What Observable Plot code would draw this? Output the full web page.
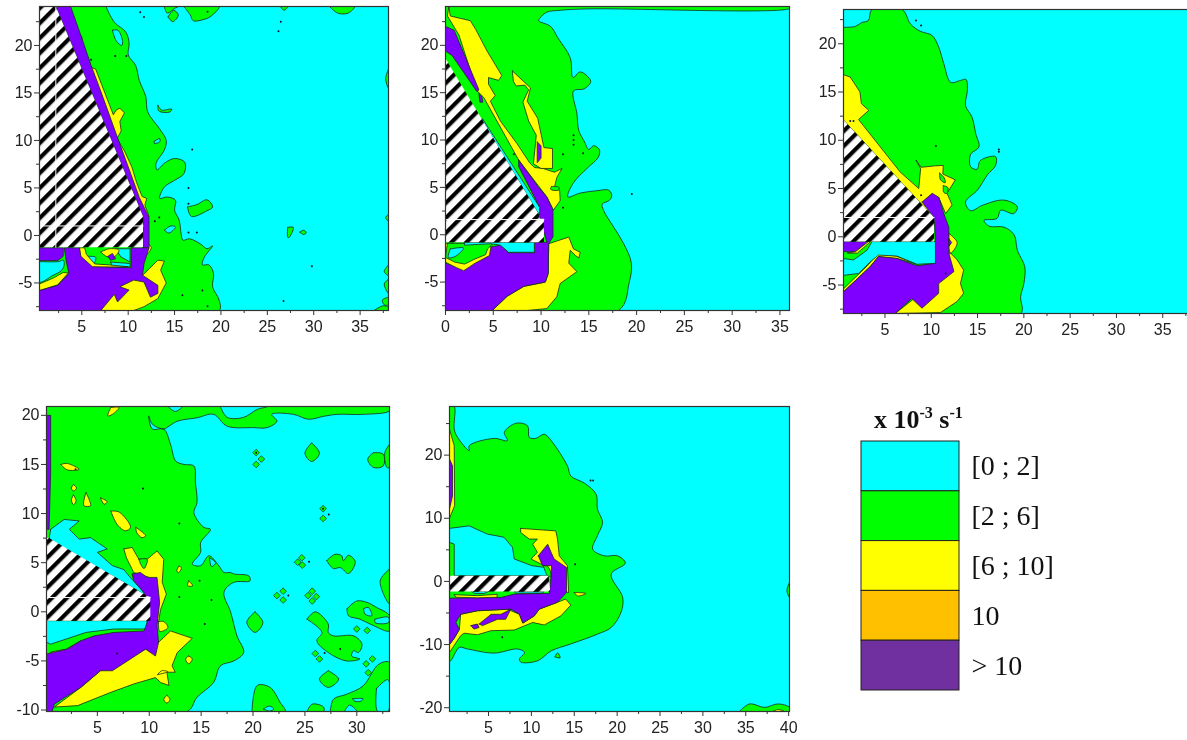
<!DOCTYPE html>
<html><head><meta charset="utf-8">
<script src="https://cdn.jsdelivr.net/npm/d3@7"></script>
<script src="https://cdn.jsdelivr.net/npm/@observablehq/plot@0.6"></script>
<style>
html,body{margin:0;padding:0;background:#fff}
#page{position:relative;width:1187px;height:740px;overflow:hidden;background:#fff}
#page svg{position:absolute;overflow:hidden;background:transparent;filter:blur(.35px)}
#unit{position:absolute;left:874px;top:405px;font:bold 26px "Liberation Serif";color:#111;white-space:nowrap;filter:blur(.3px)}
#unit sup{font-size:16px;line-height:0}
</style></head><body><div id="page"><div id="unit">x 10<sup>-3</sup> s<sup>-1</sup></div></div>
<script>
// ---------- legend ----------
const legendLabels=["[0 ; 2]","[2 ; 6]","[6 ; 10]","10","> 10"];
const legendColors=["#00ffff","#00ff00","#ffff00","#ffc000","#7030a0"];
const C="#00ffff",G="#00ff00",Y="#ffff00",P="#8000ff",B="hatch";

// ---------- panel 1 (x 0.44..38.06, y -7.9..24.1) ----------
const p1Green=[[7.6,24.1],[8.5,22.45],[9.75,21.4],[10.1,20.2],[10,19],[10.8,17.9],[11.2,16.3],[11.9,14.6],[12.1,13],[13.4,11.2],[14.1,10],[13.9,9],[13,7.6],[13.1,6.9],[13.9,7.6],[15,8.1],[16.1,7.7],[16,6.5],[15,5.8],[13.9,5.1],[13.4,3.9],[14.2,4.05],[15.1,3.7],[15,2.65],[15.5,1.6],[15.7,.2],[15.9,-.5],[16.6,-.35],[17.8,-.9],[18.5,-1.4],[19.1,-1.1],[18.2,-2.3],[18,-3.1],[18.7,-3.1],[19.2,-4],[19.1,-5.4],[19.8,-6.8],[19.8,-7.9],[.44,-7.9],[.44,24.1]];
const p1IslandA=[[16.4,3],[16.8,2],[18.5,2.6],[19.1,3],[18.5,3.75],[17.4,3.25]];
const p1IslandB=[[13.2,13.7],[13.6,13.2],[14.7,13.3],[14.5,13],[13.3,13.1]];
const p1IslandC=[[13.9,24.1],[14.2,23.4],[15,23.9],[15.4,24.1]];
const p1IslandD=[[14.3,23],[14.9,23.7],[15.4,23.2],[14.8,22.5]];
const p1IslandE=[[16,24.1],[16.7,23.2],[17,22.6],[18,22.7],[18.8,23],[19.8,24.1]];
const p1IslandF=[[31.7,24.1],[32.6,23.4],[33.7,23.4],[34.4,24.1]];
const p1IslandG=[[26.4,24.1],[26.8,23.7],[27.2,24.1]];
const p1IslandH=[[27.2,.85],[27.8,.85],[27.35,-.2],[27.2,-.2]];
const p1IslandI=[[28.5,.35],[28.9,.55],[29.2,.3],[28.9,.1]];
const p1IslandJ=[[38.06,17.5],[37.75,16.5],[38.06,15.5]];
const p1IslandK=[[36.5,-7.9],[37.5,-7.4],[38.06,-7.6],[38.06,-7.9]];
const p1IslandL=[[38.06,-3.1],[37.6,-3.8],[38.06,-4.2]];
const p1IslandM=[[38.06,-4.6],[37.6,-5.1],[38.06,-6.1]];
const p1IslandN=[[38.06,-6.5],[37.4,-6.8],[37.6,-7.3],[38.06,-7.3]];
const p1IslandO=[[38.06,2.2],[37.75,1.9],[38.06,1.5]];
const p1HoleA=[[8.3,21.6],[8.9,21.6],[9.4,20.4],[9.3,20],[8.7,20.5]];
const p1HoleB=[[12.8,9.9],[13.4,10.2],[13.4,9.85],[12.8,9.7]];
const p1HoleC=[[13.9,.55],[14.6,1],[15.1,.9],[14.4,.25]];
const p1HoleD=[[5.6,-2.2],[6.5,-2.3],[6.3,-2.95]];
const p1HoleE=[[8.65,-1.4],[10.2,-1.4],[10.2,-2.8],[9.2,-2.25]];
const p1HoleF=[[8.1,-2.8],[10.2,-2.95],[10.2,-3.3],[8.3,-3.25]];
const p1HoleG=[[.44,-2.75],[2.5,-2.75],[3,-2.6],[3.1,-3.1],[2.8,-3.7],[1.9,-4.2],[.44,-4.9]];
const p1YellowBand=[[4.35,21.6],[5,20.9],[4.9,20.2],[4.5,20.6]];
const p1YellowEdge=[[6,17.7],[6.5,17.5],[8.4,12.7],[8.7,13.2],[9.1,13.4],[9.6,12.9],[9.1,12],[9.25,11],[8.8,10.2],[9.6,8.9],[10.4,7.2],[10.9,5.6],[11.5,4.1],[12,3.9],[11.8,3.2],[12.25,2],[11,2],[5,19]];
const p1YellowLow=[[11.55,-4.2],[13.2,-2.6],[13.9,-2.7],[13.5,-3.65],[14.1,-5],[13.2,-6.65],[11.7,-7.5],[10.6,-7.9],[7,-7.9],[9,-5]];
const p1YellowStrip=[[.44,-5.1],[1.9,-4.5],[3,-3.9],[3.55,-3.95],[2.4,-5.2],[.44,-5.8]];
const p1YellowInner=[[7.05,-1.75],[7.95,-1.4],[9,-1.55],[8.5,-2.25],[7.75,-2.25]];
const p1YellowRim=[[4.75,-1.3],[5.3,-1.3],[5.5,-2],[6.4,-3],[8,-3.1],[10,-3.3],[6,-3.35],[4.8,-2.2]];
const p1YellowTip=[[12.25,-1],[12.5,-1.25],[12,-2],[11.8,-1.6]];
const p1PurpleBand=[[2.2,24.1],[3.8,24.1],[5.1,20.5],[6,17.9],[7,15.3],[8.7,10.7],[9.9,7.5],[11.2,4],[12.25,1.9],[12.25,-1.3],[11.6,-1.3],[11.6,2]];
const p1PurpleLow=[[.44,-5.8],[2.4,-5.25],[3.6,-4],[3.3,-2.6],[3.1,-1.3],[4.75,-1.3],[4.9,-2.2],[6.15,-3.3],[10.3,-3.4],[10.3,-1.3],[12.25,-1.3],[11.7,-3],[11.55,-4.2],[13.2,-5.25],[13.2,-6.1],[12.4,-6.5],[11.7,-4.9],[10.6,-4.7],[9.1,-5.4],[10.1,-5.75],[8.85,-7],[8.5,-6.2],[7.05,-7.9],[.44,-7.9]];
const p1PurpleBlock=[[.44,-1.3],[3,-1.3],[3,-2.2],[2.4,-2.65],[.44,-2.65]];
const p1PurpleInner=[[7.8,-2.2],[8.3,-1.9],[8.65,-2.45],[8.1,-2.6]];
const p1Hatch=[[.44,24.1],[2.2,24.1],[11.6,2],[11.6,-1.25],[.44,-1.25]];
const p1SeamA=[[.44,1],[11.6,1]];
const p1SeamB=[[2.2,-1.25],[2.2,24]];
const p1Specks=[[8.6,18.9],[9.8,18.9],[6,18.5],[12.87,1.5],[13.35,1.9],[26.45,22.5],[26.2,21.5],[16.9,9.05],[16.5,5],[16.5,3.35],[16.5,.3],[17.4,.3],[29.8,-3.25],[18,-5.8],[15.85,-6.3],[18.55,-7.45],[26.75,-6.9],[11.7,23],[11.3,23.5],[18.55,23.55]];

// ---------- panel 2 (x 0..36, y -8..24.1) ----------
const p2Green=[[36,24.1],[36,23.9],[15,23.85],[12,23.7],[10.6,23.5],[9.9,22.9],[9.75,22.6],[11,22],[11.75,20.8],[13.05,18.7],[13.35,16.6],[14.1,17.2],[15.2,16.2],[14.5,15.4],[13.4,15.2],[13.75,12.8],[13.95,11],[14.5,9.9],[15,9],[15.5,9.4],[16.1,9],[16,8.2],[14.8,7],[13.4,5.5],[12.8,4],[14.1,4.4],[15.85,4.65],[17.1,4.7],[17.4,4.1],[17.1,3.6],[16.4,3.25],[16.55,2.55],[17.6,.8],[18.65,-.95],[19.45,-3],[19.2,-5.15],[18.1,-8],[0,-8],[0,24.1]];
const p2YellowA=[[.35,24.1],[.5,23.1],[2.6,22.6],[3.15,21.7],[4.35,19.4],[5.9,16.8],[5.55,16.3],[4.5,16.6],[4.5,15.9],[5.2,14.7],[4.7,14.1],[5.75,12],[7.5,9.6],[8.8,7.6],[9.3,7.1],[10.2,7],[11.4,6.6],[12.2,7],[11.65,6.05],[11.4,5],[11.95,4.65],[12,3.6],[11.3,2.6],[10.6,4],[7.65,7.9],[4,14.5],[3.3,15.2],[1.4,21.1],[.2,23.1]];
const p2YellowB=[[7,17.3],[8.9,15.5],[8.55,14.1],[9.65,12.3],[10.3,9.2],[11.2,9.1],[11.2,7],[10,7],[9.2,7.5],[9.35,9],[9.5,10.5],[8.7,12],[8.1,14],[8.7,15.3],[8.3,15.8],[7.4,15.7],[7.1,16.2]];
const p2GreenFleck=[[11.1,5.1],[11.9,5],[11.8,4.7],[11,4.8]];
const p2PurpleTop=[[0,22],[.9,21.6],[3.5,15.3],[3.3,15.1],[.7,18.9],[0,19.4]];
const p2PurpleFleck=[[3.5,14.9],[3.8,14.6],[3.9,14],[3.6,14]];
const p2PurpleDots=[[9.6,9.8],[10,9.4],[10,8.1],[9.6,7.6],[9.6,8.2]];
const p2Purple=[[7.65,7.9],[9.75,5],[10.6,4],[11.25,2.6],[11.25,-.2],[10.8,-.95],[10.75,-4.1],[10.45,-5],[8.2,-5.45],[6.45,-6.5],[4.9,-8],[0,-8],[0,-3],[1.9,-3.7],[3.1,-2.9],[4.5,-2.2],[4.7,-1.3],[5.75,-1.1],[6.6,-1.9],[9.3,-1.9],[9.3,-.8],[10.6,-.8],[9.85,1.9],[9.85,2.9],[7.65,7.2]];
const p2YellowLow=[[10.8,-.95],[12.9,-.25],[13.4,-1.5],[14.1,-1.85],[13.95,-2.45],[13.6,-2.2],[13.05,-1.65],[12.9,-3],[13.75,-3.9],[12,-5.15],[11.65,-6.55],[10.6,-7.8],[8.5,-8],[4.9,-8],[6.45,-6.5],[8.2,-5.45],[10.45,-5],[10.75,-4.1]];
const p2YellowUnder=[[0,-2.9],[1.2,-3.5],[1.9,-3.8],[3.1,-3],[4.6,-2.2],[4.75,-1.3],[4.5,-.9],[0,-.9]];
const p2GreenUnder=[[.2,-.9],[5,-.9],[4.4,-1.5],[4.2,-2.1],[3,-2.6],[2,-3.1],[1,-2.9],[0,-2.4]];
const p2CyanTop=[[5.75,-.8],[9.3,-.8],[9.3,-1.85],[6.6,-1.85],[5.75,-1.1],[4.7,-.95],[2,-1.1],[2,-.8]];
const p2CyanPocket=[[.5,-1.5],[1.9,-1.4],[1,-2.3],[.3,-2.4]];
const p2CyanSliver=[[3.9,12.2],[9.85,2.9],[9.85,2.1],[9.5,2.6],[3.75,12.2]];
const p2Hatch=[[0,18.6],[9.75,2.2],[9.85,1.7],[10.3,1.7],[10.3,-.8],[0,-.8]];
const p2SeamA=[[0,1.6],[10.3,1.6]];
const p2Specks=[[13.4,10.5],[13.4,10],[13.4,9.5],[14.4,8.6],[12.3,8.5],[12.3,2.85],[19.5,4.3],[7.15,8.5]];

// ---------- panel 3 (x 0.52..38, y -7.95..23.55) ----------
const p3Green=[[.52,21.7],[1.8,21.8],[2.5,22.2],[3.2,22.4],[3.6,23.55],[6.85,23.55],[7.75,22.05],[8.8,21.3],[10.1,20.85],[10.8,19.65],[11.35,17.95],[12.1,16],[13.15,16.2],[13.75,16.3],[13.9,15.2],[13.7,13.6],[14.4,12.4],[14.8,10.7],[15.15,9.3],[14.25,8.55],[14.25,7.25],[14.95,7],[15.3,7.9],[16.95,8.3],[16.95,7.4],[16.05,6.4],[15,4.85],[13.7,3.6],[14.25,2.7],[15.5,3.25],[17.85,3.8],[19.3,3.1],[18.9,2.4],[17.5,2.75],[17.1,1.9],[15.7,1.7],[16.25,1.1],[17.85,1],[18.95,.2],[19.3,-1.4],[20.1,-3.1],[20,-4.85],[19.65,-6.2],[19.65,-7.95],[.52,-7.95]];
const p3YellowTop=[[.52,16.8],[1.25,16.55],[2.3,15],[2.45,13.8],[3.25,13.1],[2.15,12.15],[4.5,9.3],[6.65,6.7],[8.65,5],[8.85,7.05],[8.35,7.95],[8.9,7.2],[10.45,7.35],[11.3,7.4],[11.25,6.5],[12.6,5.9],[11.7,4.5],[12.25,3.3],[11.55,2.4],[10.8,4.1],[9.9,2.4],[.52,12.1]];
const p3HoleA=[[10.9,6.6],[11.4,6.1],[11.5,5.6],[11,5.9]];
const p3HoleB=[[11.3,5.3],[11.8,5.1],[11.7,4.5],[11.35,4.6]];
const p3Purple=[[9,3.6],[10.1,4.5],[10.8,4.1],[11.35,2.4],[11.9,1],[11.9,-1.7],[12.45,-3.6],[10.8,-4.85],[10.8,-5.85],[9,-7.4],[7.9,-6.4],[6.1,-7.95],[.52,-7.95],[.52,-5.7],[3.4,-3.1],[4.3,-2.05],[6.3,-2.25],[8.45,-3],[10.45,-2.75],[10.45,-.35],[10.3,2]];
const p3YellowLow=[[12.1,-1.7],[12.8,-2.4],[13.5,-3.45],[13.15,-4.85],[13.5,-5.85],[12.8,-6.7],[11,-7.85],[6.1,-7.95],[10,-5],[11.9,-1.7]];
const p3YellowRim=[[.52,-5.4],[3.2,-2.9],[4.2,-1.75],[6.2,-2],[8.5,-2.85],[6.3,-2.25],[4.3,-2.05],[3.4,-3.1],[.52,-5.7]];
const p3Diamond=[[11.9,.35],[12.8,-.6],[12.1,-1.7],[11.9,-1.2]];
const p3DiamondIn=[[11.9,-.2],[12.2,-.6],[11.9,-1]];
const p3CyanLow=[[3.6,-.5],[10.45,-.5],[10.45,-2.75],[8.45,-2.85],[6.3,-2],[4.3,-1.9],[3.4,-2.6],[2.15,-3.8],[.52,-4],[.52,-2.25],[1.6,-2.4],[3.05,-1.4]];
const p3PurpleCap=[[.52,-.5],[3.2,-.5],[1.8,-1.55],[.52,-1.55]];
const p3YellowCap=[[3.2,-.5],[3.45,-.5],[2,-1.7],[.9,-1.7],[1.8,-1.55]];
const p3Hatch=[[.52,12.1],[10.3,2],[10.3,-.5],[.52,-.5]];
const p3SeamA=[[.52,2],[10.3,2]];
const p3Specks=[[8.35,22.4],[8.9,21.9],[10.5,9.4],[17.3,9.05],[17.3,8.8],[8.9,4.3],[11.55,-3.8],[1.25,12],[1.6,12]];

// ---------- panel 4 (x 0.1..33.15, y -10.15..20.9) ----------
const p4Green=[[33.15,20.9],[33.15,20.45],[30.65,20.1],[28.1,20.1],[26.8,19.9],[25.35,19.6],[23.9,20.1],[21.8,20.1],[22.3,19.4],[21.35,18.75],[20.05,18.75],[17.5,18.9],[16.2,20.1],[14.6,19.75],[12.7,19.4],[11.7,18.75],[11.4,18.6],[10.3,19.1],[9.95,19.95],[10.3,18.6],[11.4,18.6],[12.05,17.05],[12.55,15.35],[13.35,15],[14.3,14.85],[14.45,13.15],[14.6,11.1],[14.3,10.1],[15.25,8.6],[15.9,8.4],[14.95,7.05],[14.95,6.05],[14.15,4.85],[14.95,4.7],[15.75,5.7],[16.7,4.7],[17.2,4],[17.8,4],[18.15,3.85],[19.6,3.65],[19.7,3.15],[18.15,3],[17.2,2],[17.85,-.05],[18.45,-2.45],[19.1,-4.15],[18.15,-5],[16.85,-5.5],[16.2,-7.2],[14.6,-8.7],[13.65,-10.15],[.1,-10.15],[.1,20.9]];
const p4CyanNotch=[[16.85,20.9],[17.5,19.8],[19.1,19.8],[20.4,20.6],[21.4,20.9]];
const p4CyanNotchB=[[11.8,20.9],[12.5,20.4],[13.2,20.9]];
const p4CyanPocket=[[.5,8.4],[1.8,9.4],[3.25,9.25],[2.3,8.4],[3.25,7.4],[4.35,7.55],[5.95,6.4],[5,6.05],[6.45,4.7],[7.55,4.3],[8.05,3.65],[9.8,1.6],[.35,7.4]];
const p4CyanLow=[[.1,-1.75],[.1,-3.1],[.5,-3.3],[3.9,-2.1],[6.6,-1.75],[9.8,-1.75],[9.8,-.9],[.1,-.9]];
const p4IslandA=[[25.65,17.2],[26.4,16.15],[25.65,15.3],[25,16.15]];
const p4IslandB=[[31.6,16.2],[32.55,16.05],[32.55,14.85],[31.6,14.7],[31.05,15.55]];
const p4IslandC=[[33.15,17.05],[32.7,16.2],[32.9,14.7],[33.15,14.7]];
const p4IslandD=[[27.1,5.2],[27.9,5.85],[28.55,5.7],[28.7,5.2],[29.2,5.75],[29.85,5.1],[29.2,3.9],[28.4,4.5],[27.75,4.4]];
const p4IslandE=[[29.05,.3],[30,1.1],[31,.95],[31.9,.45],[33.15,-.4],[33.15,-1.95],[31.6,-1.4],[30.3,-.75],[29.2,-.4]];
const p4HoleE1=[[30.65,.3],[31.1,.45],[31.45,-.4],[30.8,-.25]];
const p4HoleE2=[[31.75,-.75],[33.05,-.55],[33.05,-1.1],[31.75,-1.1]];
const p4IslandF=[[33.15,4.35],[32.25,3.15],[33.15,.8]];
const p4IslandG=[[20.2,0],[20.95,-1.1],[20.2,-2.1],[19.4,-1.05]];
const p4IslandH=[[25.2,-.75],[26,0],[27.25,-1.25],[27.25,-2.1],[27.75,-2.45],[29.7,-2.45],[30.5,-3.3],[30.15,-4.15],[29.7,-3.95],[29.5,-4.5],[30.3,-4.8],[29,-5],[27.25,-4.15],[26.15,-2.95],[26.65,-2.1]];
const p4IslandI=[[27.25,-6],[28.25,-6.85],[27.25,-7.7],[26.4,-6.85]];
const p4IslandJ=[[27.45,-10.15],[27.75,-8.9],[29,-8.4],[30.6,-7.55],[32.1,-5.35],[33.15,-5.15],[33.15,-10.15]];
const p4HoleJ1=[[31.9,-7.8],[33,-6.9],[33,-10.15],[32,-10.15]];
const p4HoleJ2=[[29.6,-8.85],[30.6,-8.85],[30.4,-9.1],[29.8,-9.1]];
const p4HoleJ3=[[28.8,-10.15],[29.3,-9.5],[30,-10.15]];
const p4IslandK=[[25.2,-10.15],[25.7,-9.4],[26.8,-9.7],[26.8,-10.15]];
const p4IslandL=[[19.9,-10.15],[20.4,-7.5],[21.65,-7.7],[22.6,-9.2],[23.1,-10.15]];
const p4HoleL=[[21,-9.9],[21.6,-9.6],[22,-9.9],[21.6,-10.1]];
const p4Hole2=[[15.8,5.5],[16.4,5],[16,4.6]];
const p4YellowMain=[[7.55,6.4],[8.35,6.55],[9,5.35],[9.8,5.35],[10.75,6.2],[11.4,5.35],[11.25,3],[11.65,1.8],[11.1,.25],[10.9,-1],[10,0],[10,3.5],[8.5,4],[7.8,5.5]];
const p4HoleMain=[[9,5.35],[9.8,5.35],[9.5,4.4],[9.2,4.8]];
const p4YellowLow=[[10.9,-3.1],[12.05,-1.95],[14.15,-2.7],[12.7,-4.15],[12.2,-5.5],[12.5,-6.15],[11.7,-6.15],[11.9,-7.5],[11.1,-7.2],[10.6,-6.7],[8.5,-7.35],[6.3,-8.2],[3.1,-9.55],[.85,-9.7],[3.4,-7.7],[5.3,-6],[9.65,-3.8]];
const p4YellowTip=[[10.9,-1],[11.4,-1],[11.8,-1.6],[11,-2]];
const p4YellowStrip=[[.5,-4.4],[2,-4.2],[3.5,-3.2],[3.4,-2.95],[2,-3.8],[.5,-4.1]];
const p4FleckA=[[1.47,15],[2.1,15.1],[3.25,14.5],[2.1,14.45]];
const p4FleckB=[[6.3,10.25],[7.1,10.15],[8.2,8.6],[7.7,8.25],[6.9,8.9]];
const p4FleckC=[[8.7,8.6],[9.65,7.75],[9.3,7.55],[8.8,8.05]];
const p4FleckD=[[3.9,12.15],[4.2,11.45],[4.35,10.8],[3.7,10.8]];
const p4FleckE=[[5.3,11.6],[5.95,11.2],[5.65,10.95]];
const p4FleckF=[[6.3,20.8],[7.1,20.8],[6.45,20.1],[6,19.95]];
const p4FleckG=[[12.85,4.65],[13.1,4.5],[12.85,4],[12.65,4.15]];
const p4FleckH=[[13.8,3.15],[14.2,2.65],[13.7,2.65]];
const p4FleckI=[[13.8,-4.5],[14.15,-4.8],[13.8,-5.3],[13.5,-4.8]];
const p4FleckJ=[[2.7,12.95],[3,12.6],[2.7,12.3],[2.5,12.6]];
const p4FleckK=[[2.7,11.9],[2.95,11.3],[2.7,10.9],[2.5,11.4]];
const p4FleckL=[[11.7,-8.5],[12,-8.9],[11.7,-9.3],[11.4,-8.9]];
const p4FleckM=[[10.8,-6.4],[11.8,-6.1],[11.2,-6]];
const p4Purple=[[8.35,3.85],[9.15,4],[9.8,3.5],[10.75,3.5],[11,.95],[10.75,-1.4],[10.9,-3.1],[10.6,-4.5],[9.65,-3.8],[6.45,-6],[5.3,-6],[3.4,-7.7],[.85,-9.4],[.65,-10.15],[.1,-10.15],[.1,-4.3],[2.1,-3.8],[3.4,-2.95],[4.7,-2.45],[6.6,-2.1],[9.5,-1.95],[9.8,-1.05],[9.5,1.95],[8.5,3.15]];
const p4PurpleEdge=[[.1,20],[.5,20],[.5,14.2],[.35,8.4],[.1,8.4]];
const p4Hatch=[[.3,7.55],[9.8,1.6],[10.1,1.5],[10.1,-.9],[.1,-.9],[.1,7.55]];
const p4SeamA=[[.1,1.45],[10.1,1.45]];
const p4Specks=[[9.4,12.55],[12.9,9],[15.35,-1.25],[6.9,-4.25],[12.9,1.5],[16,1.2],[14.85,3.15],[20.3,16.2],[26.75,10.5],[27.3,9.9],[25.4,5.1],[23.4,1.65],[26.9,-4.2],[28.4,-3.8],[2.9,14.5]];
const p4Diamonds=[[20.3,16.2],[20.8,15.55],[20.3,15],[26.75,10.5],[26.75,9.5],[24.7,5.5],[24.3,5.05],[24.75,4.75],[22.9,2.1],[22.3,1.65],[22.9,1.2],[25.7,2.1],[25.3,1.65],[25.7,1.1],[26.1,1.55],[26,-4.25],[26.4,-4.8],[30.9,-5.3],[31.5,-4.8],[31.1,-6.2],[31,-1.9],[30,-1.75]];

// ---------- panel 5 (x 0.45..40.1, y -20.6..27.7) ----------
const p5Green=[[.45,27.7],[1,27.7],[1,24.1],[1.4,22.8],[2.75,20.7],[2.75,21.5],[5.65,22.65],[7.2,22.3],[6.85,23.6],[8.2,25.05],[9.55,24.65],[9.75,22.8],[10.5,22.65],[11.5,23.3],[12.3,22.3],[14.2,18.3],[14.6,16.7],[16.2,15.55],[17.55,13.8],[17.7,11.45],[18.3,9.35],[17.7,7.25],[17.15,5.1],[18.5,4.05],[20.05,4.05],[20.95,2.9],[19.3,1.15],[20.65,-2.55],[20.45,-4.9],[19.3,-7.3],[17.7,-8.35],[14.6,-9.9],[12.3,-11],[10.75,-12.55],[8.8,-12.8],[8.6,-12.3],[9.2,-11.25],[8.4,-10.7],[5.65,-11.35],[2.55,-10.7],[1.6,-10.45],[.6,-12.55],[.45,-12.55]];
const p5CyanPocket=[[.45,8.4],[2.75,8.8],[4.85,7.5],[6.8,7],[7.8,5.4],[8,3.55],[10.05,2.5],[11.55,2.2],[12.3,.9],[1,.9],[1,5.9],[.45,6.2]];
const p5CyanLow=[[3,-1.6],[5,-1.6],[4.5,-1.9],[3.4,-1.9]];
const p5CyanLowB=[[8,-1.6],[11.5,-1.6],[11.2,-1.85],[8.2,-1.85]];
const p5YellowEdge=[[.45,24.1],[1,21.5],[1.05,12],[.45,10]];
const p5PurpleEdge=[[.45,19.4],[.8,18.3],[.8,13.55],[.45,11.45]];
const p5YellowUp=[[8.75,8.4],[12.85,8],[13.05,6.7],[13.25,4.05],[14.2,2.5],[14.35,-1.75],[13,-1.5],[12.5,1],[11.5,2.5],[9.95,3.55],[10.7,4.6],[10.15,5.9],[10.7,6.7],[9.75,6.7],[8.75,7.75]];
const p5GreenFleck=[[11.4,2.5],[11.9,2.4],[12.3,.9],[11.9,.9]];
const p5YellowLow=[[1.75,-5.2],[3.7,-4.65],[7.2,-4.4],[8.6,-5.2],[9,-6.6],[10.35,-5.45],[10.9,-4.4],[13.05,-3.3],[14,-2.8],[14.6,-3.75],[13.45,-5.45],[11.5,-6.9],[10.15,-6.5],[8,-7.7],[5.3,-7.8],[3.7,-8.45],[2.15,-8.2],[1.75,-8.6],[.45,-11.25],[.45,-10],[1,-9],[1.6,-7.6]];
const p5YellowSmall=[[15,-1.75],[16.35,-1.9],[15.4,-2.3]];
const p5YellowThin=[[1,-2.1],[3.7,-2.25],[6,-2.05],[6,-2.5],[3.7,-2.6],[1.2,-2.5]];
const p5Purple=[[10.8,4.05],[11.9,5.9],[12.3,4.6],[12.65,3.55],[14.1,2.2],[14.1,-1.75],[13.05,-3.3],[10.9,-4.4],[10.35,-5.45],[9,-6.6],[8.6,-5.2],[7.6,-4.4],[3.7,-4.65],[1.75,-5.2],[1.2,-6.5],[1.6,-7.6],[1,-9],[.45,-10],[.45,-2.65],[6.45,-2.55],[8,-2],[12.1,-1.9],[12.3,.9],[12.35,2.5],[11.3,2.5]];
const p5PurpleBlob=[[3.9,-6.75],[5.3,-5.2],[6.45,-5.2],[7.6,-4.4],[7,-6],[6.05,-6],[4.3,-7]];
const p5PurpleFleck=[[2.95,-7],[3.7,-6.75],[3.9,-7.3],[3.3,-7.55]];
const p5IslandA=[[34.25,-20.6],[35.45,-19.4],[37.2,-19.95],[38.75,-19.4],[40.1,-19.95],[40.1,-20.6]];
const p5IslandAy=[[38.15,-20.6],[38.75,-20.3],[39.5,-20.6]];
const p5IslandB=[[40.1,-.15],[39.8,-1.45],[40.1,-2.5]];
const p5IslandC=[[12.75,-11.95],[13.05,-11.3],[13.35,-12.1]];
const p5Hatch=[[.45,.9],[12,.9],[12.2,-1.6],[.45,-1.6]];
const p5Specks=[[16.9,16],[17.2,16],[6.6,-8.85],[15.1,2.7]];

// contours that run along the solid wall keep straight edges
const wallContours=new Set([p1YellowEdge,p1YellowLow,p1YellowStrip,p1YellowRim,p1HoleE,p1HoleF,p2YellowA,p2YellowB,p2YellowLow,p2YellowUnder,p2GreenUnder,p2CyanTop,p2CyanSliver,p3YellowTop,p3YellowLow,p3YellowRim,p3CyanLow,p3YellowCap,p4CyanPocket,p4CyanLow,p4YellowMain,p4YellowLow,p4YellowStrip,p5CyanPocket,p5CyanLow,p5CyanLowB,p5YellowEdge,p5YellowLow,p5YellowThin,p5YellowUp]);

// ---------- assembling ----------
const panels=[
 {box:[39,6,349,304],xd:[.44,38.06],yd:[-7.9,24.1],xT:[5,10,15,20,25,30,35],yT:[-5,0,5,10,15,20],xM:[2.5,7.5,12.5,17.5,22.5,27.5,32.5,37.5],yM:[-7.5,-2.5,2.5,7.5,12.5,17.5,22.5],
  layers:[[G,p1Green],[G,p1IslandA],[G,p1IslandB],[G,p1IslandC],[G,p1IslandD],[G,p1IslandE],[G,p1IslandF],[G,p1IslandG],[G,p1IslandH],[G,p1IslandI],[G,p1IslandJ],[G,p1IslandK],[G,p1IslandL],[G,p1IslandM],[G,p1IslandN],[G,p1IslandO],
   [C,p1HoleA],[C,p1HoleB],[C,p1HoleC],[C,p1HoleD],[C,p1HoleE],[C,p1HoleF],[C,p1HoleG],
   [Y,p1YellowBand],[Y,p1YellowEdge],[Y,p1YellowLow],[Y,p1YellowStrip],[Y,p1YellowInner],[Y,p1YellowRim],[Y,p1YellowTip],
   [P,p1PurpleBand],[P,p1PurpleLow],[P,p1PurpleBlock],[P,p1PurpleInner],[B,p1Hatch]],seams:[p1SeamA,p1SeamB],specks:p1Specks},
 {box:[445,6,344,304],xd:[0,36],yd:[-8,24.1],xT:[0,5,10,15,20,25,30,35],yT:[-5,0,5,10,15,20],xM:[2.5,7.5,12.5,17.5,22.5,27.5,32.5],yM:[-7.5,-2.5,2.5,7.5,12.5,17.5,22.5],
  layers:[[G,p2Green],[Y,p2YellowA],[Y,p2YellowB],[G,p2GreenFleck],[P,p2PurpleTop],[P,p2PurpleFleck],[P,p2PurpleDots],[Y,p2YellowLow],[P,p2Purple],[Y,p2YellowUnder],[G,p2GreenUnder],[C,p2CyanTop],[C,p2CyanPocket],[C,p2CyanSliver],[B,p2Hatch]],seams:[p2SeamA],specks:p2Specks},
 {box:[843,9,347,304],xd:[.52,38],yd:[-7.95,23.55],xT:[5,10,15,20,25,30,35],yT:[-5,0,5,10,15,20],xM:[2.5,7.5,12.5,17.5,22.5,27.5,32.5,37.5],yM:[-7.5,-2.5,2.5,7.5,12.5,17.5,22.5],
  layers:[[G,p3Green],[Y,p3YellowTop],[G,p3HoleA],[G,p3HoleB],[Y,p3YellowLow],[Y,p3Diamond],[Y,p3YellowRim],[P,p3Purple],[P,p3DiamondIn],[C,p3CyanLow],[P,p3PurpleCap],[Y,p3YellowCap],[B,p3Hatch]],seams:[p3SeamA],specks:p3Specks},
 {box:[46,406,343,305],xd:[.1,33.15],yd:[-10.15,20.9],xT:[5,10,15,20,25,30],yT:[-10,-5,0,5,10,15,20],xM:[2.5,7.5,12.5,17.5,22.5,27.5,32.5],yM:[-7.5,-2.5,2.5,7.5,12.5,17.5],
  layers:[[G,p4Green],[C,p4CyanNotch],[C,p4CyanNotchB],[C,p4CyanPocket],[C,p4CyanLow],[C,p4Hole2],[G,p4IslandA],[G,p4IslandB],[G,p4IslandC],[G,p4IslandD],[G,p4IslandE],[C,p4HoleE1],[C,p4HoleE2],[G,p4IslandF],[G,p4IslandG],[G,p4IslandH],[G,p4IslandI],[G,p4IslandJ],[C,p4HoleJ1],[C,p4HoleJ2],[C,p4HoleJ3],[G,p4IslandK],[G,p4IslandL],[C,p4HoleL],
   [Y,p4YellowMain],[G,p4HoleMain],[Y,p4YellowLow],[Y,p4YellowTip],[Y,p4YellowStrip],[Y,p4FleckA],[Y,p4FleckB],[Y,p4FleckC],[Y,p4FleckD],[Y,p4FleckE],[Y,p4FleckF],[Y,p4FleckG],[Y,p4FleckH],[Y,p4FleckI],[Y,p4FleckJ],[Y,p4FleckK],[Y,p4FleckL],[Y,p4FleckM],
   [P,p4Purple],[P,p4PurpleEdge],[B,p4Hatch]],seams:[p4SeamA],specks:p4Specks,diamonds:p4Diamonds},
 {box:[449,406,340,305],xd:[.45,40.1],yd:[-20.6,27.7],xT:[5,10,15,20,25,30,35,40],yT:[-20,-10,0,10,20],xM:[2.5,7.5,12.5,17.5,22.5,27.5,32.5,37.5],yM:[-15,-5,5,15,25],
  layers:[[G,p5Green],[C,p5CyanPocket],[Y,p5YellowEdge],[P,p5PurpleEdge],[Y,p5YellowUp],[G,p5GreenFleck],[Y,p5YellowLow],[Y,p5YellowSmall],[P,p5Purple],[Y,p5YellowThin],[P,p5PurpleBlob],[P,p5PurpleFleck],[C,p5CyanLow],[C,p5CyanLowB],[G,p5IslandA],[Y,p5IslandAy],[G,p5IslandB],[G,p5IslandC],[B,p5Hatch]],specks:p5Specks}
];

const page=document.getElementById("page");
const ML=42,MT=4,MB=32,MR=14;
const closed=pts=>[...pts,pts[0]];
panels.forEach((p,i)=>{
 const [L,T,W,H]=p.box, hid="hatch"+i;
 const straight=(col,pts)=>col===B||col===P||wallContours.has(pts);
 const marks=[
  Plot.frame({fill:C}),
  ...p.layers.map(([col,pts])=>Plot.line(closed(pts),{x:"0",y:"1",fill:col===B?`url(#${hid})`:col,stroke:col===B?"none":"#1c2a1c",strokeWidth:.8,clip:true,curve:straight(col,pts)?"linear":"catmull-rom"})),
  ...(p.seams||[]).map(s=>Plot.line(s,{x:"0",y:"1",stroke:"#fff",strokeWidth:1,clip:true})),
  ...(p.diamonds?[Plot.dot(p.diamonds,{x:"0",y:"1",symbol:"diamond2",r:3,fill:G,stroke:"#1c2a1c",strokeWidth:.7})]:[]),
  Plot.dot(p.specks,{x:"0",y:"1",r:1,fill:"#112"}),
  Plot.axisX({ticks:p.xM,tickSize:3,text:null,label:null,stroke:"#333"}),
  Plot.axisY({ticks:p.yM,tickSize:3,text:null,label:null,stroke:"#333"}),
  Plot.axisX({ticks:p.xT,tickSize:5,tickPadding:5,label:null,stroke:"#333",fill:"#222",fontSize:16,tickFormat:d=>String(d)}),
  Plot.axisY({ticks:p.yT,tickSize:5,tickPadding:2,label:null,stroke:"#333",fill:"#222",fontSize:16,tickFormat:d=>String(d)}),
  Plot.frame({stroke:"#333",strokeWidth:1.2}),
  ()=>{
    const defs=d3.create("svg:defs");
    const pat=defs.append("pattern").attr("id",hid).attr("patternUnits","userSpaceOnUse").attr("width",10.6).attr("height",10.6).attr("patternTransform","rotate(-45)");
    pat.append("rect").attr("width",10.6).attr("height",10.6).attr("fill","#fff");
    pat.append("rect").attr("width",10.6).attr("height",4.2).attr("fill","#000");
    return defs.node();
  }
 ];
 const svg=Plot.plot({width:W+ML+MR,height:H+MT+MB,marginLeft:ML,marginRight:MR,marginTop:MT,marginBottom:MB,
   style:{fontFamily:"'Liberation Sans'",fontSize:"16px",background:"transparent",overflow:"hidden"},
   x:{domain:p.xd},y:{domain:p.yd},marks});
 svg.style.left=(L-ML)+"px";svg.style.top=(T-MT)+"px";
 page.appendChild(svg);
});

// ---------- legend ----------
const legend=Plot.plot({width:212,height:251,marginLeft:1,marginTop:1,marginBottom:1,marginRight:113,
  style:{fontFamily:"'Liberation Serif'",background:"transparent",overflow:"visible"},
  x:{axis:null},y:{domain:legendLabels,axis:null,padding:0,round:false},
  color:{domain:legendLabels,range:legendColors},
  marks:[
   Plot.cell(legendLabels,{y:d=>d,fill:d=>d,stroke:"#222",strokeWidth:1}),
   Plot.text(legendLabels,{y:d=>d,text:d=>d,frameAnchor:"right",textAnchor:"start",dx:12,fontSize:28,fill:"#111"})
  ]});
legend.style.left="860px";legend.style.top="440px";
page.appendChild(legend);
</script></body></html>
